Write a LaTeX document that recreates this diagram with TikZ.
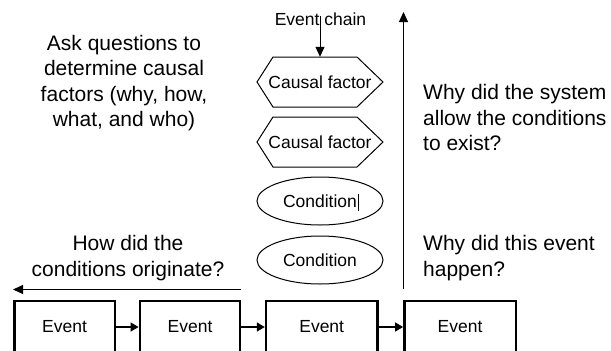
\documentclass[tikz,border=0pt]{standalone}
\usepackage{fontspec}
\setmainfont{Liberation Sans}
\usetikzlibrary{arrows.meta,shapes.geometric}
\begin{document}
\begin{tikzpicture}[x=1pt,y=-1pt,
  bigtext/.style={font=\fontsize{21}{25.5}\selectfont, inner sep=0pt},
  smalltext/.style={font=\fontsize{17.5}{21}\selectfont, inner sep=0pt},
  eventbox/.style={minimum height=52pt, inner sep=0pt, font=\fontsize{17.5}{21}\selectfont},
  boxline/.style={line width=2.4pt, line join=miter},
  condition/.style={draw, line width=1pt, ellipse, minimum width=126pt, minimum height=48pt, inner sep=0pt, font=\fontsize{17.5}{21}\selectfont},
  factor/.style={minimum width=126pt, minimum height=50pt, inner sep=0pt, font=\fontsize{17.5}{21}\selectfont},
  hexline/.style={line width=1pt, line join=miter},
  thinarrow/.style={line width=1pt, -{Triangle[length=10pt,width=9pt]}},
  linkarrow/.style={line width=1.3pt, -{Triangle[length=8pt,width=9pt]}}
]
\useasboundingbox (0,0) rectangle (611,351);

% side questions
\node[bigtext, align=center] (ask) at (124,83)
  {Ask questions to\\determine causal\\factors (why, how,\\what, and who)};
\node[bigtext, align=left, anchor=west] (whysys) at (423,117.5)
  {Why did the system\\allow the conditions\\to exist?};
\node[bigtext, align=left, anchor=west] (whyevt) at (423,258)
  {Why did this event\\happen?};
\node[bigtext, align=center] (how) at (128,258)
  {How did the\\conditions originate?};

% event chain column
\node[smalltext] (chain) at (320.5,19) {Event chain};
\node[factor] (cf1) at (320,82) {Causal factor};
\node[factor] (cf2) at (320,142) {Causal factor};
\draw[hexline] (257,82) -- (273,57) -- (357,57) -- (383,82) -- (357,107) -- (273,107) -- cycle;
\draw[hexline] (257,142) -- (273,117) -- (357,117) -- (383,142) -- (357,167) -- (273,167) -- cycle;
\node[condition] (c1) at (320,201) {Condition};
\node[condition] (c2) at (320,260) {Condition};
\coordinate (barTop) at (358,194);
\coordinate (barBot) at (358,211);
\draw[line width=0.7pt] (barTop) -- (barBot);

\coordinate (chainStart) at (320,16);
\draw[thinarrow] (chainStart) -- (cf1.north);

% direction arrows
\coordinate (upStart) at (403.5,289);
\coordinate (upEnd) at (403.5,12);
\draw[thinarrow] (upStart) -- (upEnd);
\coordinate (backStart) at (241,289.5);
\coordinate (backEnd) at (13,289.5);
\draw[thinarrow] (backStart) -- (backEnd);

% events: boxes run on past the lower edge
\node[eventbox, minimum width=100pt] (e1) at (64.5,327) {Event};
\node[eventbox, minimum width=100pt] (e2) at (190,327) {Event};
\node[eventbox, minimum width=111pt] (e3) at (321.7,327) {Event};
\node[eventbox, minimum width=111pt] (e4) at (460,327) {Event};
\foreach \e in {e1,e2,e3,e4}
  \draw[boxline] (\e.south west) -- (\e.north west) -- (\e.north east) -- (\e.south east);
\draw[linkarrow] ([xshift=1.2pt]e1.east) -- ([xshift=-1.2pt]e2.west);
\draw[linkarrow] ([xshift=1.2pt]e2.east) -- ([xshift=-1.2pt]e3.west);
\draw[linkarrow] ([xshift=1.2pt]e3.east) -- ([xshift=-1.2pt]e4.west);
\end{tikzpicture}
\end{document}
